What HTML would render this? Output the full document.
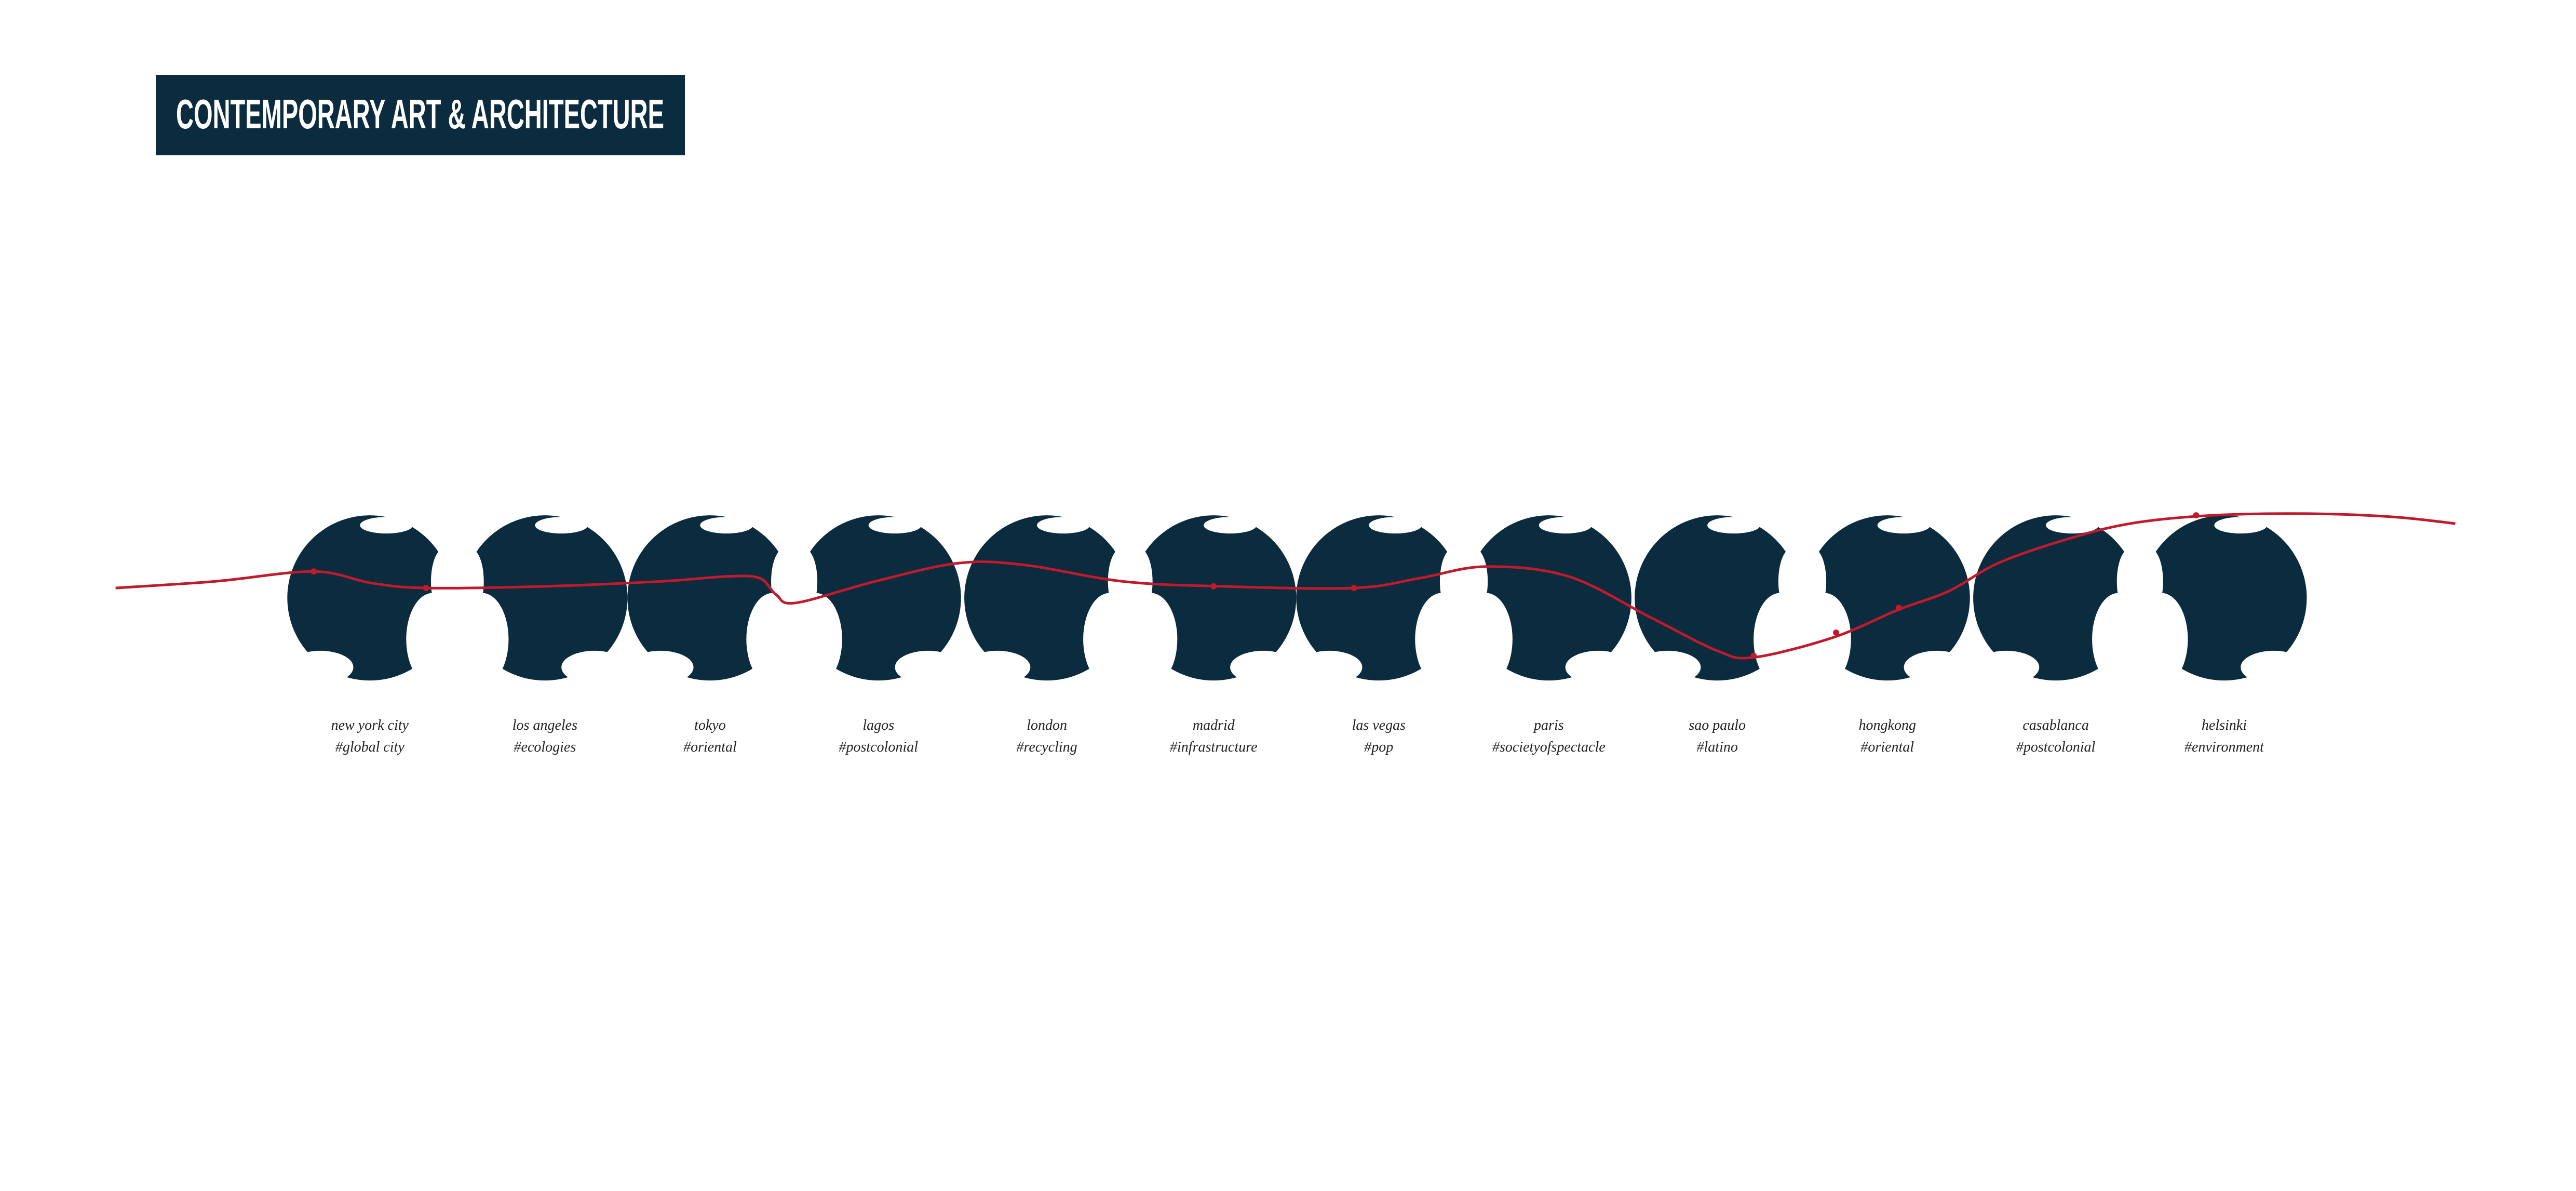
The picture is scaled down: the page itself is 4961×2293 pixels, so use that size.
<!DOCTYPE html>
<html><head><meta charset="utf-8"><style>
html,body{margin:0;padding:0;background:#fff;}
svg{display:block;}
</style></head><body>
<svg id="chart" width="4961" height="2293" viewBox="0 0 4961 2293" xmlns="http://www.w3.org/2000/svg">
<rect x="300" y="144" width="1019" height="155" fill="#0b2b3f"/>
<text x="339" y="247" textLength="940" lengthAdjust="spacingAndGlyphs" font-family="'Liberation Sans', sans-serif" font-weight="bold" font-size="80" fill="#fff">CONTEMPORARY ART &amp; ARCHITECTURE</text>
<g id="globes"></g>
<g id="labels"></g>
<g id="route"></g>
</svg>
<script>
const cities = ["new york city","los angeles","tokyo","lagos","london","madrid","las vegas","paris","sao paulo","hongkong","casablanca","helsinki"];
const tags = ["#global city","#ecologies","#oriental","#postcolonial","#recycling","#infrastructure","#pop","#societyofspectacle","#latino","#oriental","#postcolonial","#environment"];
const globeX = [224,330,430,532,634,735,835,938,1040,1143,1245,1347];
const routeX = [70,130,190,225,258,330,400,440,460,470,482,530,580,620,680,740,820,860,900,950,1000,1040,1062,1110,1150,1180,1210,1250,1290,1340,1400,1450,1487];
const routeY = [356,352,346,353,356,355,352,349,350,360,365,352,341,342,352,355,356,350,343,349,374,394,398,386,369,358,341,327,317,312,311,313,317];
const stopX = [190,258,735,820,1062,1112,1150,1330];
const stopY = [346,356,355,356,397,383,368,312];
const S = 3.18;
const sx = v => v*S, sy = v => v*S;
const NS = "http://www.w3.org/2000/svg";
const gG = document.getElementById('globes');
const gL = document.getElementById('labels');
const gR = document.getElementById('route');
globeX.forEach((x,i)=>{
  const g = document.createElementNS(NS,'g');
  
  
  const c = document.createElementNS(NS,'ellipse');
  c.setAttribute('cx',sx(x)); c.setAttribute('cy',sy(362));
  c.setAttribute('rx',sx(50)); c.setAttribute('ry',sy(50));
  c.setAttribute('fill','#0b2b3f');
  g.appendChild(c);
  const s = (i%2===0)?1:-1;
  [[s*38,25,16,28],[s*-30,42,20,10],[10,-44,16,5],[s*45,-10,8,20]].forEach(o=>{
    const e = document.createElementNS(NS,'ellipse');
    e.setAttribute('cx',sx(x+o[0])); e.setAttribute('cy',sy(362+o[1]));
    e.setAttribute('rx',sx(o[2])); e.setAttribute('ry',sy(o[3]));
    e.setAttribute('fill','#fff');
    g.appendChild(e);
  });
  gG.appendChild(g);
  const t = document.createElementNS(NS,'text');
  
  
  t.setAttribute('x',sx(x)); t.setAttribute('y',1405);
  t.setAttribute('text-anchor','middle');
  t.setAttribute('font-family',"'Liberation Serif', serif");
  t.setAttribute('font-style','italic'); t.setAttribute('font-size','28'); t.setAttribute('fill','#222');
  t.textContent = cities[i];
  gL.appendChild(t);
  const t2 = document.createElementNS(NS,'text');
  
  
  t2.setAttribute('x',sx(x)); t2.setAttribute('y',1447);
  t2.setAttribute('text-anchor','middle');
  t2.setAttribute('font-family',"'Liberation Serif', serif");
  t2.setAttribute('font-style','italic'); t2.setAttribute('font-size','28'); t2.setAttribute('fill','#222');
  t2.textContent = tags[i];
  gL.appendChild(t2);
});
const P = routeX.map((x,i)=>[sx(x),sy(routeY[i])]);
let d = 'M'+P[0][0]+' '+P[0][1];
for(let i=0;i<P.length-1;i++){
  const p0=P[Math.max(i-1,0)], p1=P[i], p2=P[i+1], p3=P[Math.min(i+2,P.length-1)];
  const c1=[p1[0]+(p2[0]-p0[0])/6, p1[1]+(p2[1]-p0[1])/6];
  const c2=[p2[0]-(p3[0]-p1[0])/6, p2[1]-(p3[1]-p1[1])/6];
  d+=' C'+c1[0]+' '+c1[1]+' '+c2[0]+' '+c2[1]+' '+p2[0]+' '+p2[1];
}
const p = document.createElementNS(NS,'path');


p.setAttribute('d',d); p.setAttribute('fill','none');
p.setAttribute('stroke','#c01a2c'); p.setAttribute('stroke-width','5');
gR.appendChild(p);
stopX.forEach((x,i)=>{
  const c = document.createElementNS(NS,'circle');
  
  
  c.setAttribute('cx',sx(x)); c.setAttribute('cy',sy(stopY[i])); c.setAttribute('r',6);
  c.setAttribute('fill','#c01a2c');
  gR.appendChild(c);
});
</script>
</body></html>
